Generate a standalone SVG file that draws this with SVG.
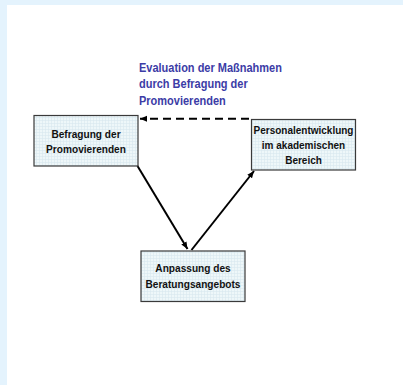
<svg xmlns="http://www.w3.org/2000/svg" width="403" height="385" viewBox="0 0 403 385">
<style>
.box{fill:url(#grid);stroke:#3a3a3a;stroke-width:1.2}
.t{font-family:"Liberation Sans",Arial,sans-serif;font-weight:bold;font-size:11.5px;fill:#111;text-anchor:middle}
.blue{font-family:"Liberation Sans",Arial,sans-serif;font-weight:bold;font-size:12.8px;fill:#3c3ca6}
.line{stroke:#000;stroke-width:2;fill:none}
</style>
<defs>
<pattern id="grid" width="3" height="3" patternUnits="userSpaceOnUse">
<rect width="3" height="3" fill="#eef7f9"/>
<path d="M0 0.5H3M0.5 0V3" stroke="#d8e8ee" stroke-width="0.6"/>
</pattern>
<marker id="ah" markerWidth="8" markerHeight="8" refX="7" refY="4" orient="auto" markerUnits="userSpaceOnUse">
<path d="M0 1L7 4L0 7Z" fill="#000"/>
</marker>
</defs>
<rect width="403" height="385" fill="#e4f3fd"/>
<rect x="7" y="5" width="396" height="380" fill="#fff"/>
<g transform="translate(139,0) scale(0.86,1)">
<text class="blue" x="0" y="72">Evaluation der Maßnahmen</text>
<text class="blue" x="0" y="88.5">durch Befragung der</text>
<text class="blue" x="0" y="105">Promovierenden</text>
</g>
<g id="connectors">
<line class="line" x1="249" y1="118.8" x2="140" y2="118.8" stroke-dasharray="8,5" marker-end="url(#ah)"/>
<line class="line" x1="137.5" y1="166" x2="187.5" y2="249" marker-end="url(#ah)"/>
<line class="line" x1="191.5" y1="250" x2="254" y2="171" marker-end="url(#ah)"/>
</g>
<g id="node-befragung">
<rect class="box" x="34" y="115.5" width="104" height="50.5"/>
<g transform="translate(86,0) scale(0.88,1)">
<text class="t" x="0" y="138">Befragung der</text>
<text class="t" x="0" y="153">Promovierenden</text>
</g>
</g>
<g id="node-personal">
<rect class="box" x="251.5" y="119.5" width="104" height="50.5"/>
<g transform="translate(303.5,0) scale(0.87,1)">
<text class="t" x="0" y="134.5">Personalentwicklung</text>
<text class="t" x="0" y="149.5">im akademischen</text>
<text class="t" x="0" y="164.5">Bereich</text>
</g>
</g>
<g id="node-anpassung">
<rect class="box" x="141" y="251" width="104" height="50.5"/>
<g transform="translate(193,0) scale(0.88,1)">
<text class="t" x="0" y="272.5">Anpassung des</text>
<text class="t" x="0" y="288.5">Beratungsangebots</text>
</g>
</g>
</svg>
